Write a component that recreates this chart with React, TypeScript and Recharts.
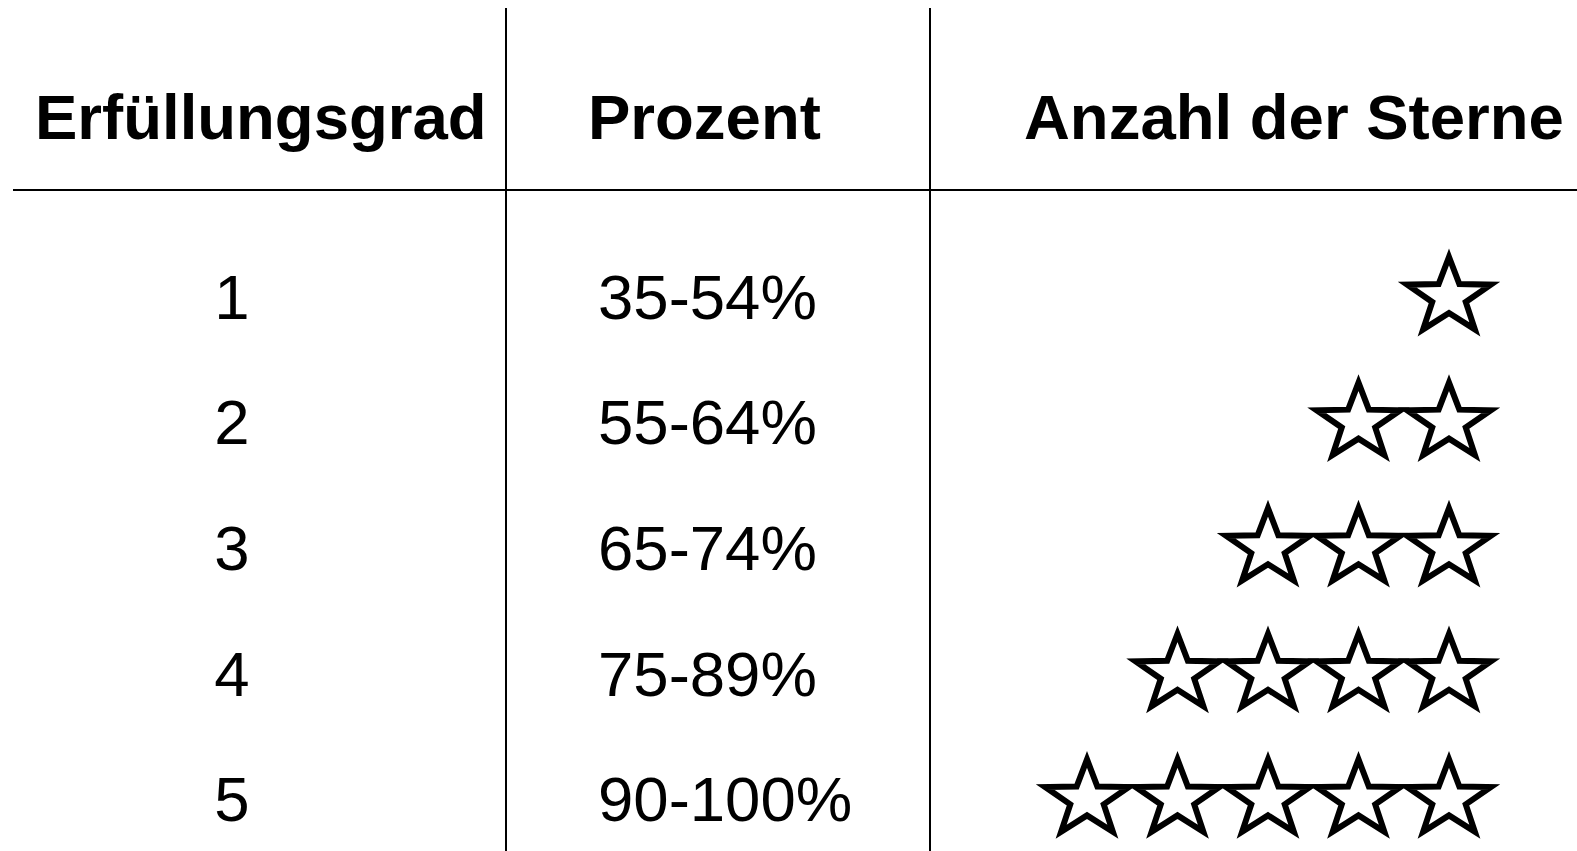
import React from 'react';
import { ScatterChart, Scatter, XAxis, YAxis, ReferenceLine } from 'recharts';

// ---- data ----
const headers = ['Erfüllungsgrad', 'Prozent', 'Anzahl der Sterne'];
const levels = [1, 2, 3, 4, 5];
const percentLabels = ['35-54%', '55-64%', '65-74%', '75-89%', '90-100%'];
const starCounts = [1, 2, 3, 4, 5];

// ---- layout ----
const W = 1577;
const H = 851;
const ROW1_PX = 296;
const ROW_STEP_PX = 125.6;
const Y_MIN = 1 - ROW1_PX / ROW_STEP_PX;
const Y_MAX = Y_MIN + H / ROW_STEP_PX;
const pxToRow = (px: number) => Y_MIN + px / ROW_STEP_PX;

const HEADER_ROW = pxToRow(116.3);
const RULE_ROW = pxToRow(190);
const VLINE_TOP_ROW = pxToRow(8);
const HEADER_X = [35, 588, 1024];
const LEVEL_X = 232;
const PERCENT_X = 598;
const STAR_RIGHT_X = 1449;
const STAR_STEP = 90.5;
const VLINES = [506, 930];
const RULE_LEFT = 13;

const FONT = '"Liberation Sans", Arial, Helvetica, sans-serif';
const FS = 63.5;

const headerData = headers.map((label, i) => ({ x: HEADER_X[i], y: HEADER_ROW, label }));
const levelData = levels.map((l) => ({ x: LEVEL_X, y: l, label: String(l) }));
const percentData = levels.map((l, i) => ({ x: PERCENT_X, y: l, label: percentLabels[i] }));
const starData = levels.flatMap((l, i) =>
  Array.from({ length: starCounts[i] }, (_, k) => ({ x: STAR_RIGHT_X - k * STAR_STEP, y: l }))
);

const makeText = (anchor: 'start' | 'middle', bold: boolean) => (props: any) => {
  const { cx, cy, payload } = props;
  return (
    <text
      x={cx}
      y={cy + 0.358 * FS}
      textAnchor={anchor}
      fontFamily={FONT}
      fontSize={FS}
      fontWeight={bold ? 700 : 400}
      fill="#000"
    >
      {payload.label}
    </text>
  );
};

const StarShape = (props: any) => {
  const { cx, cy } = props;
  const R = 40;
  const r = R * 0.4;
  const sx = 1.1;
  const pts: string[] = [];
  for (let i = 0; i < 10; i++) {
    const ang = -Math.PI / 2 + (i * Math.PI) / 5;
    const rad = i % 2 === 0 ? R : r;
    pts.push(`${cx + Math.cos(ang) * rad * sx},${cy + 1 + Math.sin(ang) * rad}`);
  }
  return (
    <polygon
      points={pts.join(' ')}
      fill="none"
      stroke="#000"
      strokeWidth={6}
      strokeLinejoin="miter"
      strokeMiterlimit={10}
    />
  );
};

export default function App() {
  return (
    <div style={{ position: 'fixed', left: 0, top: 0, width: W, height: H, background: '#fff' }}>
      <ScatterChart width={W} height={H} margin={{ top: 0, right: 0, bottom: 0, left: 0 }}>
        <XAxis type="number" dataKey="x" domain={[0, W]} hide allowDataOverflow />
        <YAxis type="number" dataKey="y" domain={[Y_MIN, Y_MAX]} reversed hide allowDataOverflow />
        {VLINES.map((vx) => (
          <ReferenceLine
            key={vx}
            segment={[
              { x: vx, y: VLINE_TOP_ROW },
              { x: vx, y: Y_MAX },
            ]}
            stroke="#000"
            strokeWidth={2}
          />
        ))}
        <ReferenceLine
          segment={[
            { x: RULE_LEFT, y: RULE_ROW },
            { x: W, y: RULE_ROW },
          ]}
          stroke="#000"
          strokeWidth={2}
        />
        <Scatter data={headerData} shape={makeText('start', true)} isAnimationActive={false} />
        <Scatter data={levelData} shape={makeText('middle', false)} isAnimationActive={false} />
        <Scatter data={percentData} shape={makeText('start', false)} isAnimationActive={false} />
        <Scatter data={starData} shape={StarShape} isAnimationActive={false} />
      </ScatterChart>
    </div>
  );
}
